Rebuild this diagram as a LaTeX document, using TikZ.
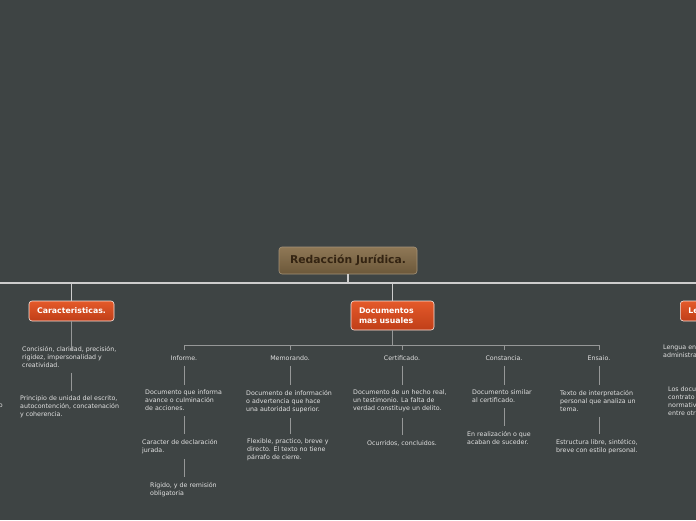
\documentclass[tikz,border=0pt]{standalone}
\usepackage{fontspec}
\setmainfont{DejaVu Sans}
\usetikzlibrary{positioning}
\definecolor{fondo}{RGB}{62,68,68}
\definecolor{linea}{RGB}{205,205,205}
\definecolor{lineagris}{RGB}{150,152,152}
\definecolor{texto}{RGB}{225,225,225}
\definecolor{naranjaA}{RGB}{228,90,42}
\definecolor{naranjaB}{RGB}{192,62,24}
\definecolor{cafeA}{RGB}{143,120,86}
\definecolor{cafeB}{RGB}{108,88,58}
\definecolor{cafeT}{RGB}{52,36,18}

\begin{document}
\begin{tikzpicture}[x=1pt,y=-1pt,
  rama/.style={draw=linea, line width=1.3pt},
  subrama/.style={draw=lineagris, line width=0.9pt},
  enlace/.style={draw=lineagris, line width=0.9pt, shorten <=5pt, shorten >=5pt},
  caja/.style={draw=white!85!naranjaA, line width=0.6pt, rounded corners=3pt,
    top color=naranjaA, bottom color=naranjaB, text=white,
    font=\fontsize{7.8}{9.5}\selectfont\bfseries, inner sep=0pt},
  nota/.style={text=texto, font=\fontsize{6.3}{8}\selectfont, align=left,
    inner sep=0pt, anchor=north west},
  etiqueta/.style={text=texto, font=\fontsize{6.3}{8}\selectfont, inner sep=0pt}]
  % fondo
  \useasboundingbox (0,0) rectangle (696,520);
  \clip (0,0) rectangle (696,520);
  \fill[fondo] (0,0) rectangle (696,520);
  % raiz
  \node[draw=cafeA!80!white, line width=0.6pt, rounded corners=3pt,
    top color=cafeA, bottom color=cafeB, text=cafeT,
    font=\fontsize{10.8}{12}\selectfont\bfseries,
    minimum width=138pt, minimum height=27pt, inner sep=0pt]
    (root) at (348,260.5) {Redacción Jurídica.};
  % ramas principales
  \node[caja, minimum width=85pt, minimum height=20pt] (carac) at (71.5,311) {Caracteristicas.};
  \node[caja, text width=67pt, align=left, inner xsep=8pt, minimum height=29pt]
    (docs) at (392.5,315.5) {Documentos\\mas usuales};
  \node[caja, text width=64pt, align=left, inner xsep=8pt, minimum height=20pt,
    anchor=west] (leng) at (680,311) {Le};
  \coordinate (busL) at (0,283);
  \coordinate (busR) at (696,283);
  \coordinate (sub) at (0,345);
  % Caracteristicas
  \node[nota] (car1) at (22,346) {Concisión, claridad, precisión,\\rigidez, impersonalidad y\\creatividad.};
  \node[nota] (car2) at (20,396) {Principio de unidad del escrito,\\autocontención, concatenación\\y coherencia.};
  \node[nota, anchor=north east] (cut) at (3,403.5) {o};
  % Documentos mas usuales
  \node[etiqueta] (inf) at (184,358) {Informe.};
  \node[nota] (inf1) at (145,390) {Documento que informa\\avance o culminación\\de acciones.};
  \node[nota] (inf2) at (142,439) {Caracter de declaración\\jurada.};
  \node[nota] (inf3) at (150,482) {Rígido, y de remisión\\obligatoria};
  \node[etiqueta] (mem) at (290,358) {Memorando.};
  \node[nota] (mem1) at (246,390) {Documento de información\\o advertencia que hace\\una autoridad superior.};
  \node[nota] (mem2) at (247,439) {Flexible, practico, breve y\\directo. El texto no tiene\\párrafo de cierre.};
  \node[etiqueta] (cer) at (402,358) {Certificado.};
  \node[nota] (cer1) at (353,390) {Documento de un hecho real,\\un testimonio. La falta de\\verdad constituye un delito.};
  \node[etiqueta] (cer2) at (402,443) {Ocurridos, concluidos.};
  \node[etiqueta] (con) at (504,358) {Constancia.};
  \node[nota] (con1) at (472,390) {Documento similar\\al certificado.};
  \node[nota] (con2) at (467,431) {En realización o que\\acaban de suceder.};
  \node[etiqueta] (ens) at (599,358) {Ensaio.};
  \node[nota] (ens1) at (560,390) {Texto de interpretación\\personal que analiza un\\tema.};
  \node[nota] (ens2) at (556,439) {Estructura libre, sintético,\\breve con estilo personal.};
  % Le...
  \node[nota] (leg1) at (663,345) {Lengua en\\administra};
  \node[nota] (leg2) at (668,387) {Los docu\\contrato\\normativ\\entre otr};
  % conectores
  \draw[rama] (root.south) -- (root.south |- busL);
  \draw[rama] (busL) -- (busR);
  \draw[rama] (carac.north |- busL) -- (carac.north);
  \draw[rama] (docs.north |- busL) -- (docs.north);
  \draw[subrama] (carac.south) -- ([yshift=-5pt]carac.south |- car1.north);
  \draw[enlace] (car1.south -| carac.south) -- (carac.south |- car2.north);
  \draw[subrama] (docs.south) -- (docs.south |- sub);
  \draw[subrama] (inf |- sub) -- (ens |- sub);
  \foreach \n in {inf,mem,cer,con,ens}
    \draw[subrama] (\n |- sub) -- ++(0,5);
  \draw[enlace] (inf.south) -- (inf.south |- inf1.north);
  \draw[enlace] (inf.south |- inf1.south) -- (inf.south |- inf2.north);
  \draw[enlace] (inf.south |- inf2.south) -- (inf.south |- inf3.north);
  \draw[enlace] (mem.south) -- (mem.south |- mem1.north);
  \draw[enlace] (mem.south |- mem1.south) -- (mem.south |- mem2.north);
  \draw[enlace] (cer.south) -- (cer.south |- cer1.north);
  \draw[enlace] (cer.south |- cer1.south) -- (cer2.north);
  \draw[enlace] (con.south) -- (con.south |- con1.north);
  \draw[enlace] (con.south |- con1.south) -- (con.south |- con2.north);
  \draw[enlace] (ens.south) -- (ens.south |- ens1.north);
  \draw[enlace] (ens.south |- ens1.south) -- (ens.south |- ens2.north);
\end{tikzpicture}
\end{document}
